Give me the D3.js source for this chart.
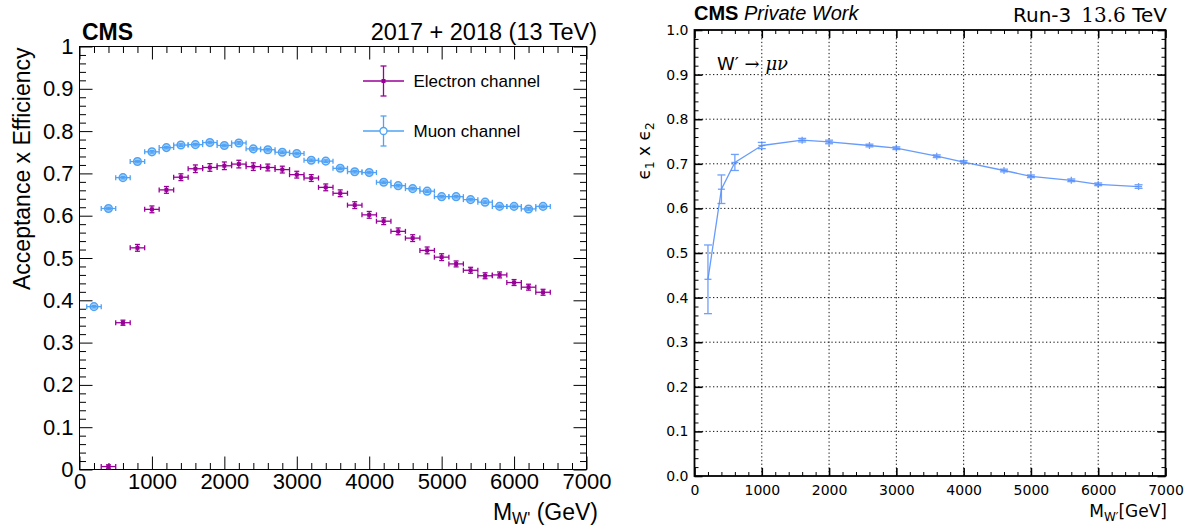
<!DOCTYPE html>
<html>
<head>
<meta charset="utf-8">
<script src="https://cdn.jsdelivr.net/npm/d3@7/dist/d3.min.js"></script>
<style>
  body { margin: 0; background: #fff; }
  svg { display: block; }
</style>
</head>
<body>
<svg id="chart" width="1189" height="529"></svg>
<script>
// ---------- Left panel: 2017+2018 acceptance x efficiency ----------
const muonMass = [200, 400, 600, 800, 1000, 1200, 1400, 1600, 1800, 2000, 2200, 2400, 2600, 2800, 3000, 3200,
                  3400, 3600, 3800, 4000, 4200, 4400, 4600, 4800, 5000, 5200, 5400, 5600, 5800, 6000, 6200, 6400];
const muonEff  = [0.385, 0.617, 0.690, 0.728, 0.751, 0.761, 0.767, 0.768, 0.773, 0.766, 0.772, 0.758, 0.756, 0.750, 0.747, 0.731,
                  0.729, 0.712, 0.704, 0.702, 0.679, 0.671, 0.664, 0.658, 0.645, 0.645, 0.638, 0.632, 0.622, 0.622, 0.616, 0.622];
const muonErr  = [0.003, 0.003, 0.003, 0.003, 0.003, 0.003, 0.003, 0.003, 0.003, 0.003, 0.003, 0.003, 0.003, 0.003, 0.003, 0.003,
                  0.003, 0.003, 0.003, 0.003, 0.003, 0.003, 0.003, 0.003, 0.003, 0.003, 0.003, 0.003, 0.003, 0.003, 0.003, 0.003];

const electronMass = [400, 600, 800, 1000, 1200, 1400, 1600, 1800, 2000, 2200, 2400, 2600, 2800, 3000, 3200,
                      3400, 3600, 3800, 4000, 4200, 4400, 4600, 4800, 5000, 5200, 5400, 5600, 5800, 6000, 6200, 6400];
const electronEff  = [0.007, 0.347, 0.524, 0.615, 0.661, 0.691, 0.711, 0.714, 0.718, 0.722, 0.716, 0.714, 0.709, 0.697, 0.689,
                      0.667, 0.653, 0.625, 0.602, 0.587, 0.563, 0.547, 0.518, 0.502, 0.486, 0.471, 0.458, 0.460, 0.442, 0.431, 0.419];
const electronErr  = [0.004, 0.006, 0.008, 0.008, 0.008, 0.008, 0.009, 0.009, 0.009, 0.009, 0.009, 0.008, 0.008, 0.008, 0.008,
                      0.008, 0.008, 0.008, 0.008, 0.008, 0.008, 0.008, 0.008, 0.008, 0.007, 0.007, 0.007, 0.007, 0.007, 0.007, 0.007];
const binHalfWidth = 100; // GeV

// ---------- Right panel: Run-3 W' -> mu nu ----------
const run3Mass = [200, 400, 600, 1000, 1600, 2000, 2600, 3000, 3600, 4000, 4600, 5000, 5600, 6000, 6600];
const run3Eff  = [0.441, 0.643, 0.703, 0.741, 0.753, 0.749, 0.741, 0.735, 0.717, 0.704, 0.685, 0.672, 0.663, 0.654, 0.649];
const run3Err  = [0.077, 0.032, 0.018, 0.007, 0.004, 0.004, 0.003, 0.003, 0.003, 0.003, 0.003, 0.003, 0.003, 0.003, 0.004];

// Tick values shared by both panels
const massTicks = [0, 1000, 2000, 3000, 4000, 5000, 6000, 7000];
const effTicks  = [0, 0.1, 0.2, 0.3, 0.4, 0.5, 0.6, 0.7, 0.8, 0.9, 1.0];

const COL_E = "#990099";
const COL_MU = "#4fa2f5";
const COL_RUN3 = "#5790fc";

const svg = d3.select("#chart");
svg.append("rect").attr("width", 1189).attr("height", 529).attr("fill", "#fff");

const rootFont = "'Liberation Sans', Arial, Helvetica, sans-serif";
const mplFont = "'DejaVu Sans', sans-serif";

// =================== LEFT PANEL (ROOT style) ===================
const xL = d3.scaleLinear().domain([0, 7000]).range([79.5, 586.5]);
const yL = d3.scaleLinear().domain([0, 1]).range([469.5, 46.5]);
const left = svg.append("g");

function styleAxis(g, font, size) {
  g.select(".domain").remove();
  g.selectAll(".tick line").attr("stroke", "#000").attr("stroke-width", 1);
  g.selectAll(".tick text").attr("font-family", font).attr("font-size", size).attr("fill", "#000");
}

const minorX = xL.ticks(35).filter(v => v % 1000 !== 0);
const minorY = yL.ticks(50).filter(v => Math.abs(Math.round(v * 10) - v * 10) > 1e-6);

const lfmt = v => (v === 0 ? "0" : v === 1 ? "1" : d3.format(".1f")(v));

// bottom
left.append("g").attr("transform", `translate(0,${yL(0)})`)
  .call(d3.axisBottom(xL).tickValues(massTicks).tickSize(-13).tickPadding(4).tickFormat(d3.format("d")))
  .call(g => styleAxis(g, rootFont, 22));
left.append("g").attr("transform", `translate(0,${yL(0)})`)
  .call(d3.axisBottom(xL).tickValues(minorX).tickSize(-6.5).tickFormat(""))
  .call(g => styleAxis(g, rootFont, 22));
// top
left.append("g").attr("transform", `translate(0,${yL(1)})`)
  .call(d3.axisTop(xL).tickValues(massTicks).tickSize(-13).tickFormat(""))
  .call(g => styleAxis(g, rootFont, 22));
left.append("g").attr("transform", `translate(0,${yL(1)})`)
  .call(d3.axisTop(xL).tickValues(minorX).tickSize(-6.5).tickFormat(""))
  .call(g => styleAxis(g, rootFont, 22));
// left
left.append("g").attr("transform", `translate(${xL(0)},0)`)
  .call(d3.axisLeft(yL).tickValues(effTicks).tickSize(-13).tickPadding(6).tickFormat(lfmt))
  .call(g => styleAxis(g, rootFont, 22));
left.append("g").attr("transform", `translate(${xL(0)},0)`)
  .call(d3.axisLeft(yL).tickValues(minorY).tickSize(-6.5).tickFormat(""))
  .call(g => styleAxis(g, rootFont, 22));
// right
left.append("g").attr("transform", `translate(${xL(7000)},0)`)
  .call(d3.axisRight(yL).tickValues(effTicks).tickSize(-13).tickFormat(""))
  .call(g => styleAxis(g, rootFont, 22));
left.append("g").attr("transform", `translate(${xL(7000)},0)`)
  .call(d3.axisRight(yL).tickValues(minorY).tickSize(-6.5).tickFormat(""))
  .call(g => styleAxis(g, rootFont, 22));

left.append("rect")
  .attr("x", xL(0)).attr("y", yL(1))
  .attr("width", xL(7000) - xL(0)).attr("height", yL(0) - yL(1))
  .attr("fill", "none").attr("stroke", "#000").attr("stroke-width", 1);

// ROOT-style error bars: horizontal bin width + vertical stat error, with end caps
function rootErrors(g, xs, ys, es, color, cap) {
  const d = xs.map((x, i) => ({ x, y: ys[i], e: es[i] }));
  const gg = g.append("g").attr("stroke", color).attr("stroke-width", 1.3).attr("fill", "none");
  d.forEach(p => {
    const cx = xL(p.x), cy = yL(p.y);
    const xa = xL(p.x - binHalfWidth), xb = xL(p.x + binHalfWidth);
    const ya = yL(p.y + p.e), yb = yL(p.y - p.e);
    gg.append("line").attr("x1", xa).attr("x2", xb).attr("y1", cy).attr("y2", cy);
    gg.append("line").attr("x1", xa).attr("x2", xa).attr("y1", cy - cap).attr("y2", cy + cap);
    gg.append("line").attr("x1", xb).attr("x2", xb).attr("y1", cy - cap).attr("y2", cy + cap);
    gg.append("line").attr("x1", cx).attr("x2", cx).attr("y1", ya).attr("y2", yb);
    gg.append("line").attr("x1", cx - cap).attr("x2", cx + cap).attr("y1", ya).attr("y2", ya);
    gg.append("line").attr("x1", cx - cap).attr("x2", cx + cap).attr("y1", yb).attr("y2", yb);
  });
  return d;
}

const muPts = rootErrors(left, muonMass, muonEff, muonErr, COL_MU, 2.5);
left.append("g").selectAll("circle").data(muPts).join("circle")
  .attr("cx", d => xL(d.x)).attr("cy", d => yL(d.y)).attr("r", 3.8)
  .attr("fill", "rgba(79,162,245,0.35)").attr("stroke", COL_MU).attr("stroke-width", 1.5);

const ePts = rootErrors(left, electronMass, electronEff, electronErr, COL_E, 2.5);
left.append("g").selectAll("rect").data(ePts).join("rect")
  .attr("x", d => xL(d.x) - 2).attr("y", d => yL(d.y) - 2).attr("width", 4).attr("height", 4)
  .attr("fill", COL_E);

// legend
function legendEntry(cx, cy, color, label, open) {
  const g = left.append("g");
  g.append("line").attr("x1", cx - 20.5).attr("x2", cx + 20.5).attr("y1", cy).attr("y2", cy)
    .attr("stroke", color).attr("stroke-width", 1.3);
  g.append("line").attr("x1", cx).attr("x2", cx).attr("y1", cy - 15).attr("y2", cy + 15)
    .attr("stroke", color).attr("stroke-width", 1.3);
  g.append("line").attr("x1", cx - 3).attr("x2", cx + 3).attr("y1", cy - 15).attr("y2", cy - 15)
    .attr("stroke", color).attr("stroke-width", 1.3);
  g.append("line").attr("x1", cx - 3).attr("x2", cx + 3).attr("y1", cy + 15).attr("y2", cy + 15)
    .attr("stroke", color).attr("stroke-width", 1.3);
  if (open) {
    g.append("circle").attr("cx", cx).attr("cy", cy).attr("r", 3.5)
      .attr("fill", "#fff").attr("stroke", color).attr("stroke-width", 1.3);
  } else {
    g.append("rect").attr("x", cx - 2).attr("y", cy - 2).attr("width", 4).attr("height", 4).attr("fill", color);
  }
  g.append("text").attr("x", cx + 30).attr("y", cy + 6)
    .attr("font-family", rootFont).attr("font-size", 17).attr("fill", "#000").text(label);
}
legendEntry(383.5, 81, COL_E, "Electron channel", false);
legendEntry(383.5, 131, COL_MU, "Muon channel", true);

// titles
left.append("text").attr("x", 82).attr("y", 40)
  .attr("font-family", rootFont).attr("font-weight", "bold").attr("font-size", 23).text("CMS");
left.append("text").attr("x", 597).attr("y", 40).attr("text-anchor", "end")
  .attr("font-family", rootFont).attr("font-size", 23.5).text("2017 + 2018 (13 TeV)");

left.append("text")
  .attr("transform", `translate(30,${yL(1) + 1}) rotate(-90)`).attr("text-anchor", "end")
  .attr("font-family", rootFont).attr("font-size", 23).text("Acceptance x Efficiency");

const xtl = left.append("text").attr("x", 598).attr("y", 520).attr("text-anchor", "end")
  .attr("font-family", rootFont).attr("font-size", 23);
xtl.append("tspan").text("M");
xtl.append("tspan").attr("font-size", 16).attr("dy", 4).text("W'");
xtl.append("tspan").attr("dy", -4).text(" (GeV)");

// =================== RIGHT PANEL (matplotlib / mplhep style) ===================
const xR = d3.scaleLinear().domain([0, 7000]).range([694.5, 1165.5]);
const yR = d3.scaleLinear().domain([0, 1]).range([476, 30]);
const right = svg.append("g");

// dotted grid at major ticks
const grid = right.append("g").attr("stroke", "#111").attr("stroke-width", 1)
  .attr("stroke-dasharray", "1.3,2.4");
grid.selectAll(".gx").data(massTicks.slice(1, -1)).join("line")
  .attr("x1", d => xR(d)).attr("x2", d => xR(d)).attr("y1", yR(0)).attr("y2", yR(1));
grid.selectAll(".gy").data(effTicks.slice(1, -1)).join("line")
  .attr("x1", xR(0)).attr("x2", xR(7000)).attr("y1", d => yR(d)).attr("y2", d => yR(d));

const minorXR = xR.ticks(35).filter(v => v % 1000 !== 0);
const minorYR = yR.ticks(50).filter(v => Math.abs(Math.round(v * 10) - v * 10) > 1e-6);

function mplAxis(g, w) {
  g.select(".domain").remove();
  g.selectAll(".tick line").attr("stroke", "#000").attr("stroke-width", w);
  g.selectAll(".tick text").attr("font-family", mplFont).attr("font-size", 14).attr("fill", "#000");
}
right.append("g").attr("transform", `translate(0,${yR(0)})`)
  .call(d3.axisBottom(xR).tickValues(massTicks).tickSize(-8).tickPadding(9).tickFormat(d3.format("d")))
  .call(g => mplAxis(g, 1.6));
right.append("g").attr("transform", `translate(0,${yR(0)})`)
  .call(d3.axisBottom(xR).tickValues(minorXR).tickSize(-4).tickFormat("")).call(g => mplAxis(g, 1));
right.append("g").attr("transform", `translate(0,${yR(1)})`)
  .call(d3.axisTop(xR).tickValues(massTicks).tickSize(-8).tickFormat("")).call(g => mplAxis(g, 1.6));
right.append("g").attr("transform", `translate(0,${yR(1)})`)
  .call(d3.axisTop(xR).tickValues(minorXR).tickSize(-4).tickFormat("")).call(g => mplAxis(g, 1));
right.append("g").attr("transform", `translate(${xR(0)},0)`)
  .call(d3.axisLeft(yR).tickValues(effTicks).tickSize(-8).tickPadding(6).tickFormat(d3.format(".1f")))
  .call(g => mplAxis(g, 1.6));
right.append("g").attr("transform", `translate(${xR(0)},0)`)
  .call(d3.axisLeft(yR).tickValues(minorYR).tickSize(-4).tickFormat("")).call(g => mplAxis(g, 1));
right.append("g").attr("transform", `translate(${xR(7000)},0)`)
  .call(d3.axisRight(yR).tickValues(effTicks).tickSize(-8).tickFormat("")).call(g => mplAxis(g, 1.6));
right.append("g").attr("transform", `translate(${xR(7000)},0)`)
  .call(d3.axisRight(yR).tickValues(minorYR).tickSize(-4).tickFormat("")).call(g => mplAxis(g, 1));

right.append("rect")
  .attr("x", xR(0)).attr("y", yR(1))
  .attr("width", xR(7000) - xR(0)).attr("height", yR(0) - yR(1))
  .attr("fill", "none").attr("stroke", "#000").attr("stroke-width", 1.8);

// efficiency curve with error bars
const run3 = run3Mass.map((m, i) => ({ x: m, y: run3Eff[i], e: run3Err[i] }));
right.append("path").datum(run3)
  .attr("d", d3.line().x(d => xR(d.x)).y(d => yR(d.y)))
  .attr("fill", "none").attr("stroke", COL_RUN3).attr("stroke-width", 1.3).attr("opacity", 0.9);
const eb = right.append("g").attr("stroke", COL_RUN3).attr("stroke-width", 1.3).attr("opacity", 0.85);
run3.forEach(p => {
  const cx = xR(p.x), cy = yR(p.y), ya = yR(p.y + p.e), yb = yR(p.y - p.e);
  eb.append("line").attr("x1", cx).attr("x2", cx).attr("y1", Math.min(ya, cy - 3.5)).attr("y2", Math.max(yb, cy + 3.5));
  eb.append("line").attr("x1", cx - 4).attr("x2", cx + 4).attr("y1", ya).attr("y2", ya);
  eb.append("line").attr("x1", cx - 4).attr("x2", cx + 4).attr("y1", yb).attr("y2", yb);
  eb.append("line").attr("x1", cx - 3.5).attr("x2", cx + 3.5).attr("y1", cy).attr("y2", cy);
});

// headers
const hdr = right.append("text").attr("x", 694).attr("y", 20).attr("font-family", rootFont).attr("font-size", 20);
hdr.append("tspan").attr("font-weight", "bold").text("CMS");
hdr.append("tspan").attr("font-style", "italic").text(" Private Work");

const run = right.append("text").attr("x", 1167).attr("y", 22).attr("text-anchor", "end")
  .attr("font-family", mplFont).attr("font-size", 20);
run.append("tspan").text("Run-3");
run.append("tspan").attr("dx", 10).attr("font-family", "'DejaVu Serif', serif").text("13.6");
run.append("tspan").text(" TeV");

const proc = right.append("text").attr("x", 717).attr("y", 70).attr("font-family", mplFont).attr("font-size", 18);
proc.append("tspan").text("W′ ");
proc.append("tspan").attr("font-family", "'DejaVu Serif', serif").text("→ ");
proc.append("tspan").attr("font-family", "'DejaVu Serif', serif").attr("font-style", "italic").text("μν");

const ytl = right.append("text").attr("transform", "translate(650,151) rotate(-90)")
  .attr("text-anchor", "middle").attr("font-family", mplFont).attr("font-size", 17);
ytl.append("tspan").text("ϵ");
ytl.append("tspan").attr("font-size", 12).attr("dy", 4).text("1");
ytl.append("tspan").attr("dy", -4).text(" x ϵ");
ytl.append("tspan").attr("font-size", 12).attr("dy", 4).text("2");

const xtr = right.append("text").attr("x", 1167).attr("y", 517).attr("text-anchor", "end")
  .attr("font-family", mplFont).attr("font-size", 17);
xtr.append("tspan").text("M");
xtr.append("tspan").attr("font-size", 12).attr("dy", 4).text("W′");
xtr.append("tspan").attr("dy", -4).text("[GeV]");
</script>
</body>
</html>
